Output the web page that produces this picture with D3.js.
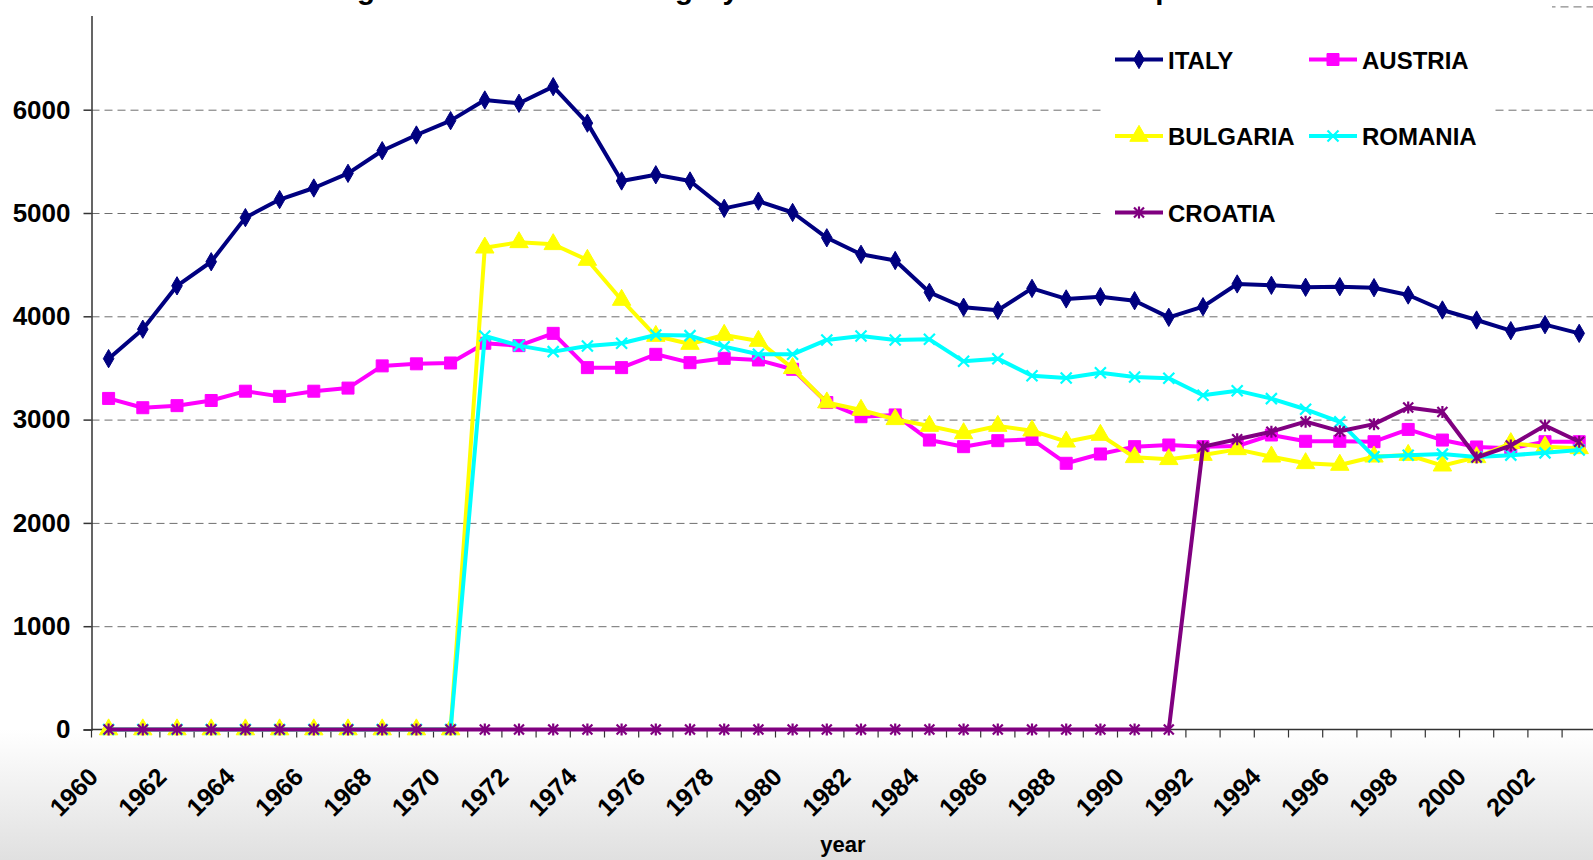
<!DOCTYPE html>
<html>
<head>
<meta charset="utf-8">
<script src="https://cdn.jsdelivr.net/npm/d3@7"></script>
<style>
body { margin: 0; background: #fff; }
svg text { font-family: "Liberation Sans", Arial, sans-serif; font-weight: bold; fill: #000; }
</style>
</head>
<body>
<div id="linechart"></div>
<script>

//categories
var years = [1960, 1961, 1962, 1963, 1964, 1965, 1966, 1967, 1968, 1969,
	1970, 1971, 1972, 1973, 1974, 1975, 1976, 1977, 1978, 1979,
	1980, 1981, 1982, 1983, 1984, 1985, 1986, 1987, 1988, 1989,
	1990, 1991, 1992, 1993, 1994, 1995, 1996, 1997, 1998, 1999,
	2000, 2001, 2002, 2003];

//series values
var italy = [3590, 3875, 4295, 4528, 4955, 5130, 5242, 5384, 5603, 5755,
	5894, 6094, 6062, 6223, 5870, 5310, 5370, 5310, 5045, 5115,
	5005, 4760, 4600, 4540, 4232, 4088, 4058, 4270, 4168, 4190,
	4151, 3990, 4093, 4313, 4300, 4281, 4287, 4277, 4206, 4061,
	3964, 3861, 3919, 3835];

var austria = [3205, 3115, 3135, 3185, 3275, 3225, 3275, 3305, 3520, 3540,
	3548, 3739, 3716, 3835, 3503, 3503, 3632, 3551, 3593, 3577,
	3487, 3165, 3028, 3045, 2802, 2738, 2796, 2809, 2577, 2667,
	2738, 2754, 2738, 2744, 2851, 2790, 2790, 2786, 2905, 2802,
	2735, 2722, 2786, 2786];

var bulgaria = [0, 0, 0, 0, 0, 0, 0, 0, 0, 0,
	0, 4664, 4716, 4697, 4545, 4158, 3809, 3732, 3819, 3761,
	3497, 3165, 3093, 3003, 2938, 2867, 2938, 2893, 2786, 2851,
	2635, 2616, 2657, 2712, 2641, 2577, 2561, 2641, 2657, 2554,
	2635, 2771, 2738, 2722];

var romania = [0, 0, 0, 0, 0, 0, 0, 0, 0, 0,
	0, 3809, 3716, 3658, 3713, 3739, 3819, 3813, 3706, 3632,
	3632, 3771, 3809, 3771, 3777, 3564, 3590, 3425, 3403, 3454,
	3412, 3400, 3235, 3280, 3203, 3100, 2978, 2641, 2654, 2666,
	2637, 2656, 2678, 2706];

var croatia = [0, 0, 0, 0, 0, 0, 0, 0, 0, 0,
	0, 0, 0, 0, 0, 0, 0, 0, 0, 0,
	0, 0, 0, 0, 0, 0, 0, 0, 0, 0,
	0, 0, 2738, 2809, 2883, 2980, 2888, 2956, 3117, 3074,
	2633, 2749, 2943, 2786];

//tick labels
var yTicks = [0, 1000, 2000, 3000, 4000, 5000, 6000];
var gridTicks = [1000, 2000, 3000, 4000, 5000, 6000, 7000];
var xLabels = [1960, 1962, 1964, 1966, 1968, 1970, 1972, 1974, 1976, 1978, 1980,
	1982, 1984, 1986, 1988, 1990, 1992, 1994, 1996, 1998, 2000, 2002];

var seriesNames = ["ITALY", "AUSTRIA", "BULGARIA", "ROMANIA", "CROATIA"];
var seriesColors = ["#000080", "#ff00ff", "#ffff00", "#00ffff", "#800080"];
var seriesMarkers = ["diamond", "square", "triangle", "times", "asterisk"];
var seriesValues = [italy, austria, bulgaria, romania, croatia];

var titleText = "Average fertilizer use in category of the member states of Europe";

//define outer width and height
var outerWidth = 1593;
var outerHeight = 860;

//define the plot box
var margin = {top: 6.4, left: 91.5, bottom: 130.5};
var plotBottom = outerHeight - margin.bottom;
var step = 34.2;

var svg = d3.select("body").select("#linechart")
	.append("svg")
	.attr("width", outerWidth)
	.attr("height", outerHeight)
	.style("display", "block");

//grey fade under the plot
var defs = svg.append("defs");
var grad = defs.append("linearGradient")
	.attr("id", "fade")
	.attr("x1", 0).attr("y1", 0)
	.attr("x2", 0).attr("y2", 1);
grad.append("stop").attr("offset", "0%").attr("stop-color", "#ffffff");
grad.append("stop").attr("offset", "100%").attr("stop-color", "#e0e0e0");

svg.append("rect")
	.attr("x", 0)
	.attr("y", plotBottom)
	.attr("width", outerWidth)
	.attr("height", outerHeight - plotBottom)
	.attr("fill", "url(#fade)");

//define scales
var xScale = d3.scaleBand()
	.domain(years)
	.range([margin.left, margin.left + years.length * step]);

var yScale = d3.scaleLinear()
	.domain([0, 7000])
	.range([plotBottom, margin.top]);

//gridlines
var grid = d3.axisLeft(yScale)
	.tickValues(gridTicks)
	.tickSize(-(outerWidth - margin.left))
	.tickFormat("");

svg.append("g")
	.attr("class", "grid")
	.attr("transform", "translate(" + margin.left + ",0)")
	.call(grid)
	.call(function(g){ g.select(".domain").remove(); })
	.selectAll("line")
	.attr("stroke", "#6e6e6e")
	.attr("stroke-width", 1)
	.style("stroke-dasharray", ("8, 5"));

//y axis
var yAxis = d3.axisLeft(yScale)
	.tickValues(yTicks)
	.tickFormat(d3.format("d"))
	.tickSize(8)
	.tickPadding(13);

var gy = svg.append("g")
	.attr("class", "y axis")
	.attr("transform", "translate(" + margin.left + ",0)")
	.call(yAxis);

gy.select(".domain").attr("stroke", "#333").attr("stroke-width", 1.5);
gy.selectAll("line").attr("stroke", "#333").attr("stroke-width", 1.5);
gy.selectAll("text")
	.style("font-size", "26px")
	.style("font-family", "'Liberation Sans', Arial, sans-serif")
	.style("font-weight", "bold")
	.attr("fill", "#000");

//x axis: ticks sit between the years
var gx = svg.append("g")
	.attr("class", "x axis")
	.attr("transform", "translate(0," + plotBottom + ")");

gx.append("line")
	.attr("x1", margin.left)
	.attr("x2", outerWidth)
	.attr("stroke", "#333")
	.attr("stroke-width", 1.5);

gx.selectAll(".xtick")
	.data(years)
	.enter()
	.append("line")
	.attr("class", "xtick")
	.attr("x1", function(d){ return xScale(d); })
	.attr("x2", function(d){ return xScale(d); })
	.attr("y1", 0)
	.attr("y2", 8)
	.attr("stroke", "#333")
	.attr("stroke-width", 1.2);

gx.selectAll(".xlabel")
	.data(xLabels)
	.enter()
	.append("text")
	.attr("class", "xlabel")
	.attr("text-anchor", "end")
	.style("font-size", "25px")
	.attr("transform", function(d){
		return "translate(" + (xScale(d) + xScale.bandwidth() / 2 - 9) + ",49) rotate(-45)";
	})
	.text(function(d){ return d; });

svg.append("text")
	.attr("x", 843)
	.attr("y", 852)
	.attr("text-anchor", "middle")
	.style("font-size", "22px")
	.text("year");

//marker shapes
var markerPath = function(type, s){
	if (type === "diamond") return d3.symbol().type(d3.symbolDiamond).size(s * s * 0.8)();
	if (type === "square") return d3.symbol().type(d3.symbolSquare).size(s * s)();
	if (type === "triangle") return d3.symbol().type(d3.symbolTriangle).size(s * s * 0.75)();
	var h = s / 2;
	var p = "M" + (-h) + "," + (-h) + "L" + h + "," + h + "M" + (-h) + "," + h + "L" + h + "," + (-h);
	if (type === "asterisk") p += "M0," + (-h - 1) + "L0," + (h + 1);
	return p;
};
var markerSize = {diamond: 11, square: 12, triangle: 14, times: 11, asterisk: 10};
var isStroke = function(type){ return type === "times" || type === "asterisk"; };

var line = d3.line()
	.x(function(d, i){ return xScale(years[i]) + xScale.bandwidth() / 2; })
	.y(function(d){ return yScale(d); });

seriesValues.forEach(function(values, k){
	var type = seriesMarkers[k];
	var color = seriesColors[k];

	svg.append("path")
		.datum(values)
		.attr("fill", "none")
		.attr("stroke", color)
		.attr("stroke-width", 4)
		.attr("stroke-linejoin", "round")
		.attr("d", line);

	svg.selectAll(".point" + k)
		.data(values)
		.enter()
		.append("path")
		.attr("class", "point" + k)
		.attr("transform", function(d, i){
			return "translate(" + (xScale(years[i]) + xScale.bandwidth() / 2) + "," + yScale(d) + ")";
		})
		.attr("d", markerPath(type, markerSize[type]))
		.attr("fill", isStroke(type) ? "none" : color)
		.attr("stroke", color)
		.attr("stroke-width", isStroke(type) ? 2.2 : 1);
});

//title box hides the top of the chart
svg.append("rect")
	.attr("x", 0)
	.attr("y", 0)
	.attr("width", 1552)
	.attr("height", 16)
	.attr("fill", "#fff");

svg.append("text")
	.attr("x", 276)
	.attr("y", -1)
	.style("font-size", "29.5px")
	.text(titleText);

//legend
var legend = svg.append("g").attr("class", "legend");

legend.append("rect")
	.attr("x", 1105)
	.attr("y", 24)
	.attr("width", 390)
	.attr("height", 226)
	.attr("fill", "#fff");

var legendX = [1115, 1309];
var legendY = [59.5, 136, 212.5];

var item = legend.selectAll(".item")
	.data(seriesNames)
	.enter()
	.append("g")
	.attr("class", "item")
	.attr("transform", function(d, i){
		return "translate(" + legendX[i % 2] + "," + legendY[Math.floor(i / 2)] + ")";
	});

item.append("line")
	.attr("x1", 0)
	.attr("x2", 48)
	.attr("stroke", function(d, i){ return seriesColors[i]; })
	.attr("stroke-width", 4);

item.append("path")
	.attr("transform", "translate(24,0)")
	.attr("d", function(d, i){ return markerPath(seriesMarkers[i], markerSize[seriesMarkers[i]]); })
	.attr("fill", function(d, i){ return isStroke(seriesMarkers[i]) ? "none" : seriesColors[i]; })
	.attr("stroke", function(d, i){ return seriesColors[i]; })
	.attr("stroke-width", function(d, i){ return isStroke(seriesMarkers[i]) ? 2.2 : 1; });

item.append("text")
	.attr("x", 53)
	.attr("y", 9)
	.style("font-size", "24px")
	.text(function(d){ return d; });

</script>
</body>
</html>
